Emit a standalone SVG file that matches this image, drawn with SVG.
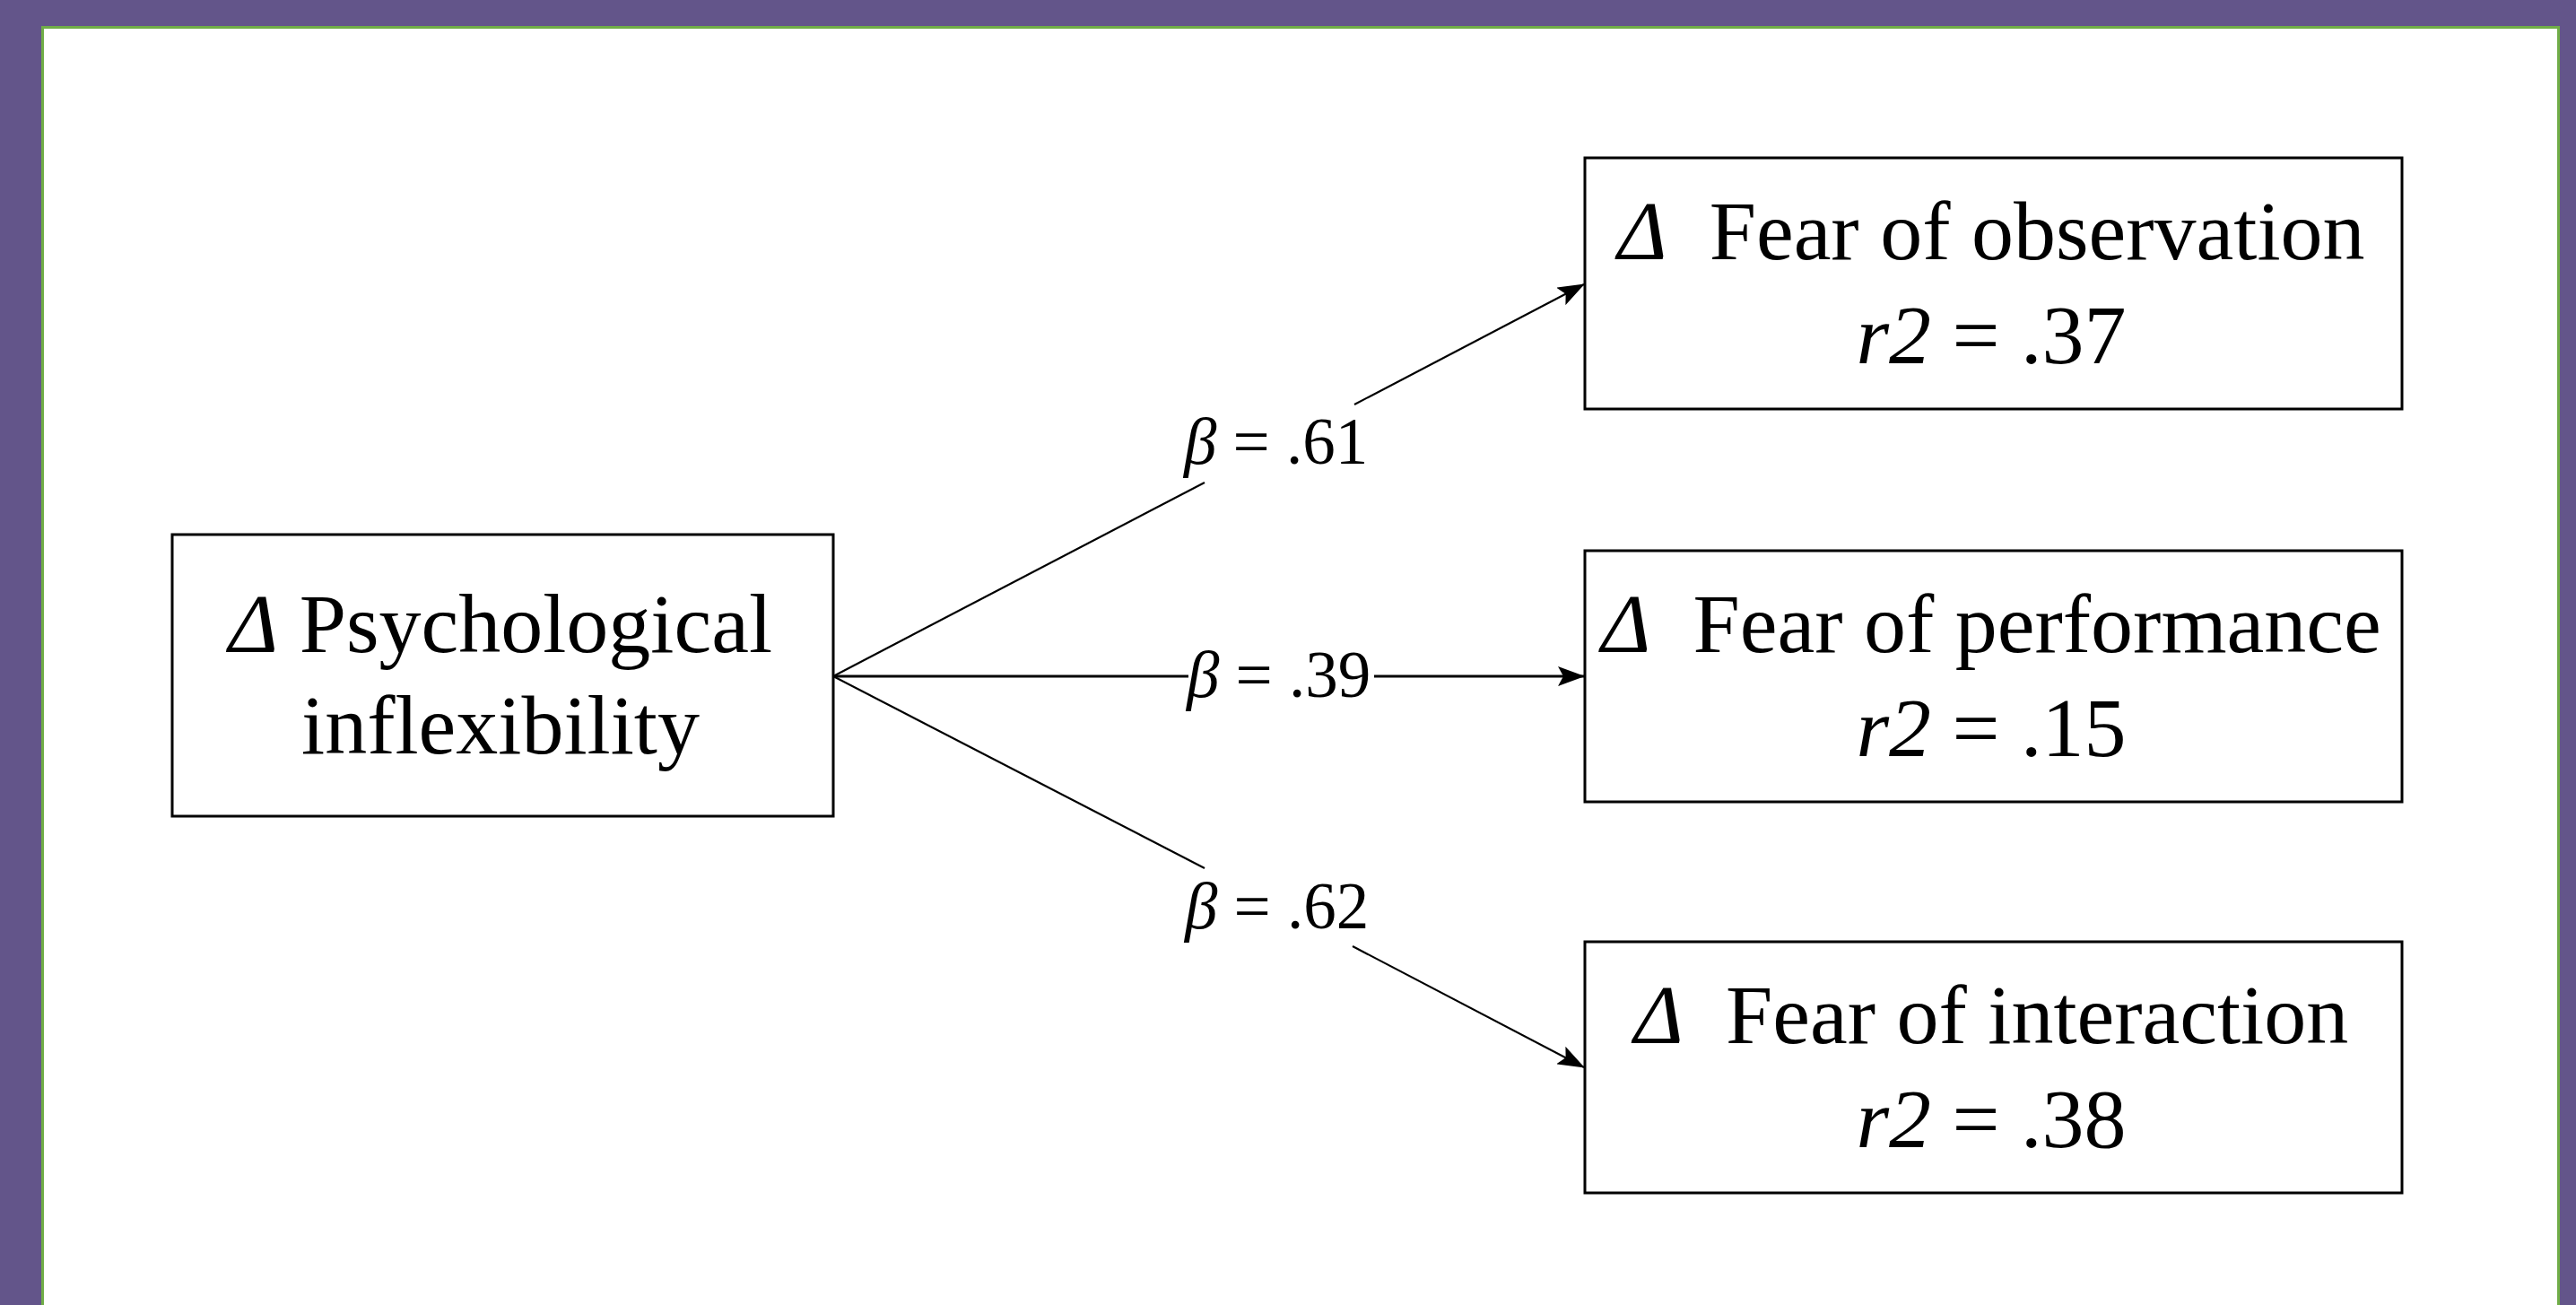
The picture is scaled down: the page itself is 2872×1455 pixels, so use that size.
<svg xmlns="http://www.w3.org/2000/svg" width="2872" height="1455" viewBox="0 0 2872 1455">
  <defs>
    <style>
      .box { fill: #ffffff; stroke: #000000; stroke-width: 3; }
      .t { font-family: "Liberation Serif", "Times New Roman", serif; font-size: 94px; fill: #000000; text-anchor: middle; white-space: pre; }
      .lbl { font-family: "Liberation Serif", "Times New Roman", serif; font-size: 73px; fill: #000000; white-space: pre; }
      .it { font-style: italic; }
      .conn { fill: none; stroke: #000000; stroke-width: 2.2; }
      .connh { fill: none; stroke: #000000; stroke-width: 3; }
    </style>
    <marker id="arrow" markerUnits="userSpaceOnUse" markerWidth="30" markerHeight="22" refX="29" refY="11" orient="auto">
      <path d="M0,0 L30,11 L0,22 L6,11 z" fill="#000000"/>
    </marker>
  </defs>

  <rect x="0" y="0" width="2872" height="1455" fill="#63558A"/>
  <rect x="47.5" y="30.5" width="2805" height="1500" fill="#ffffff" stroke="#70AD47" stroke-width="3"/>

  <g id="connectors">
    <path class="conn" d="M929,754 L1343,538"/>
    <path class="conn" d="M1510,451 L1766,317" marker-end="url(#arrow)"/>
    <path class="connh" d="M929,754 L1325,754"/>
    <path class="connh" d="M1532,754 L1766,754" marker-end="url(#arrow)"/>
    <path class="conn" d="M929,754 L1343,968"/>
    <path class="conn" d="M1508,1055 L1766,1190" marker-end="url(#arrow)"/>
    <text class="lbl" x="1320" y="517"><tspan class="it">β</tspan> = .61</text>
    <text class="lbl" x="1323" y="777"><tspan class="it">β</tspan> = .39</text>
    <text class="lbl" x="1321" y="1035"><tspan class="it">β</tspan> = .62</text>
  </g>

  <g id="node-psychological-inflexibility">
    <rect class="box" x="192" y="596" width="737" height="314"/>
    <text class="t" x="558" y="727"><tspan class="it">Δ</tspan> Psychological</text>
    <text class="t" x="558" y="840">inflexibility</text>
  </g>

  <g id="node-fear-observation">
    <rect class="box" x="1767" y="176" width="911" height="280"/>
    <text class="t" x="2220" y="289"><tspan class="it">Δ</tspan>  Fear of observation</text>
    <text class="t" x="2220" y="405"><tspan class="it">r2</tspan> = .37</text>
  </g>

  <g id="node-fear-performance">
    <rect class="box" x="1767" y="614" width="911" height="280"/>
    <text class="t" x="2220" y="727"><tspan class="it">Δ</tspan>  Fear of performance</text>
    <text class="t" x="2220" y="843"><tspan class="it">r2</tspan> = .15</text>
  </g>

  <g id="node-fear-interaction">
    <rect class="box" x="1767" y="1050" width="911" height="280"/>
    <text class="t" x="2220" y="1163"><tspan class="it">Δ</tspan>  Fear of interaction</text>
    <text class="t" x="2220" y="1279"><tspan class="it">r2</tspan> = .38</text>
  </g>
</svg>
